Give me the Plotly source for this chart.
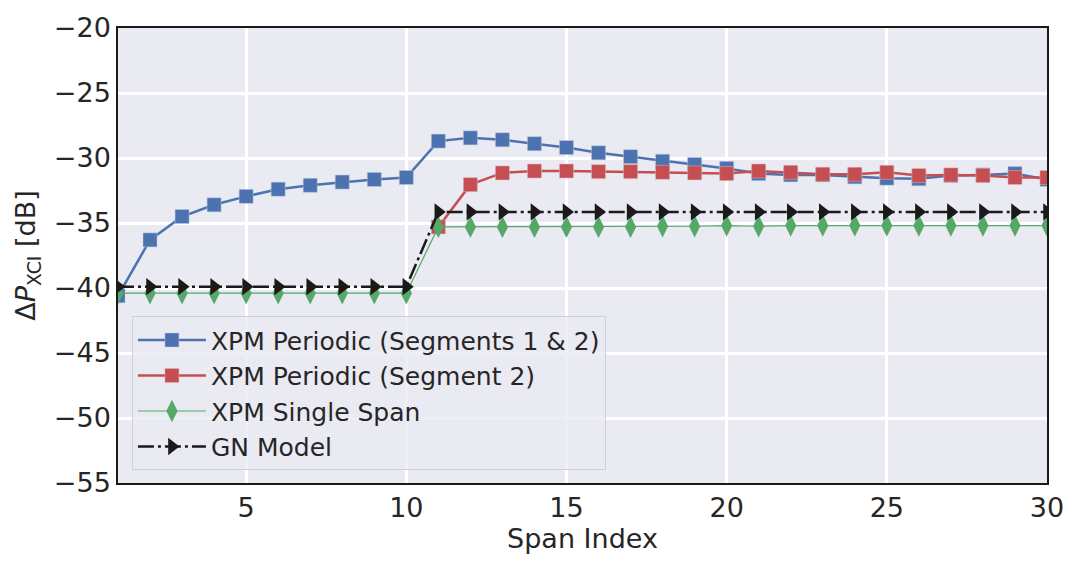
import plotly.graph_objects as go

spans = list(range(1, 31))
spans_seg2 = list(range(11, 31))

# XPM periodic, both segments
xpm_periodic_12 = [
    -40.6, -36.3, -34.5, -33.6, -32.95, -32.4, -32.1, -31.85, -31.65, -31.5,
    -28.7, -28.45, -28.6, -28.9, -29.2, -29.6, -29.9, -30.25, -30.5, -30.8,
    -31.2, -31.3, -31.3, -31.45, -31.55, -31.6, -31.35, -31.3, -31.2, -31.65,
]
# XPM periodic, segment 2 only (starts at span 11)
xpm_periodic_2 = [
    -35.3, -32.05, -31.15, -31.0, -31.0, -31.05, -31.05, -31.1, -31.15, -31.2,
    -31.0, -31.1, -31.25, -31.25, -31.1, -31.35, -31.3, -31.35, -31.5, -31.5,
]
xpm_single = [-40.4] * 10 + [
    -35.3, -35.3, -35.3, -35.3, -35.3, -35.3, -35.3, -35.25, -35.25, -35.2,
    -35.25, -35.2, -35.2, -35.2, -35.2, -35.2, -35.2, -35.2, -35.2, -35.2,
]
gn_model = [-39.9] * 10 + [-34.15] * 20

BLUE = "#4C72B0"
RED = "#C44E52"
GREEN = "#55A868"
BLACK = "#1a1a1a"
BG = "#EAEAF2"
TXT = "#262626"

fig = go.Figure()

fig.add_scatter(
    name="XPM Periodic (Segments 1 & 2)",
    x=spans, y=xpm_periodic_12,
    mode="lines+markers",
    line=dict(color=BLUE, width=2.5),
    marker=dict(symbol="square", size=14, color=BLUE, line=dict(color="#b8c6e0", width=0.5)),
)
fig.add_scatter(
    name="XPM Periodic (Segment 2)",
    x=spans_seg2, y=xpm_periodic_2,
    mode="lines+markers",
    line=dict(color=RED, width=2.5),
    marker=dict(symbol="square", size=14, color=RED, line=dict(color="#e0b8ba", width=0.5)),
)
fig.add_scatter(
    name="XPM Single Span",
    x=spans, y=xpm_single,
    mode="lines+markers",
    line=dict(color=GREEN, width=1.2),
    marker=dict(symbol="diamond-tall", size=16, color=GREEN, line=dict(width=0)),
)
fig.add_scatter(
    name="GN Model",
    x=spans, y=gn_model,
    mode="lines+markers",
    line=dict(color=BLACK, width=2.5, dash="16px,4px,3px,4px"),
    marker=dict(symbol="triangle-right", size=15, color=BLACK, line=dict(width=0)),
)

axis_common = dict(
    showgrid=True,
    gridcolor="white",
    gridwidth=2.8,
    zeroline=False,
    showline=True,
    linecolor=BLACK,
    linewidth=1.5,
    mirror=True,
    ticks="",
    tickfont=dict(size=27, color=TXT),
)

fig.update_xaxes(
    range=[1, 30],
    tickvals=[5, 10, 15, 20, 25, 30],
    title=dict(text="Span Index", font=dict(size=27, color=TXT), standoff=7),
    **axis_common,
)
fig.update_yaxes(
    range=[-55, -20],
    dtick=5,
    title=dict(text="Δ<i>P</i><sub>XCI</sub> [dB]", font=dict(size=27, color=TXT), standoff=10),
    **axis_common,
)

fig.update_layout(
    width=1076,
    height=567,
    margin=dict(l=118, r=28, t=20, b=84),
    paper_bgcolor="white",
    plot_bgcolor=BG,
    font=dict(family="DejaVu Sans", color=TXT),
    legend=dict(
        x=0.015, y=0.028,
        xanchor="left", yanchor="bottom",
        bgcolor="rgba(234,234,242,0.8)",
        bordercolor="#d0d0d8",
        borderwidth=1,
        font=dict(size=25, color=TXT),
        itemwidth=68,
    ),
)

fig.write_html(
    "out.html",
    config={"displayModeBar": False},
    post_script="document.body.style.margin='0';",
)
